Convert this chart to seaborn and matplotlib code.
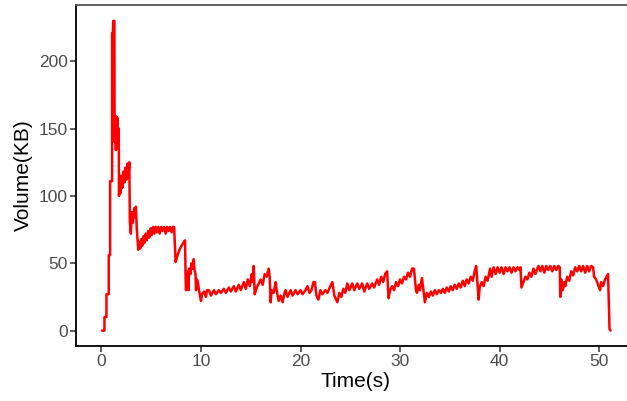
import pandas as pd
import matplotlib.pyplot as plt
import seaborn as sns

# values (seconds, KB)
time_s = [
    0.05, 0.3, 0.3, 0.5, 0.5, 0.73, 0.73, 0.87, 0.87, 1.07, 1.07, 1.15, 1.18, 1.3,
    1.32, 1.4, 1.45, 1.5, 1.55, 1.6, 1.68, 1.74, 1.76, 1.85, 1.9, 2.0, 2.1, 2.2,
    2.3, 2.4, 2.5, 2.6, 2.7, 2.8, 2.85, 2.95, 3.05, 3.15, 3.3, 3.4, 3.46, 3.55,
    3.7, 3.8, 3.9, 4.0, 4.1, 4.2, 4.3, 4.45, 4.55, 4.7, 4.8, 4.95, 5.05, 5.2,
    5.3, 5.45, 5.55, 5.7, 5.85, 6.0, 6.15, 6.3, 6.45, 6.6, 6.75, 6.9, 7.05, 7.2,
    7.3, 7.45, 7.6, 7.75, 7.9, 8.05, 8.2, 8.4, 8.45, 8.5, 8.55, 8.65, 8.75, 8.8,
    8.95, 9.05, 9.15, 9.27, 9.35, 9.45, 9.5, 9.6, 9.7, 9.8, 10.0, 10.1, 10.3, 10.5,
    10.6, 10.8, 11.0, 11.3, 11.5, 11.8, 12.0, 12.3, 12.5, 12.8, 13.0, 13.3, 13.5, 13.8,
    14.0, 14.3, 14.5, 14.7, 14.9, 15.1, 15.2, 15.3, 15.4, 15.6, 15.8, 16.0, 16.2, 16.4,
    16.6, 16.8, 16.9, 17.0, 17.1, 17.3, 17.5, 17.6, 17.8, 18.0, 18.2, 18.4, 18.5, 18.7,
    19.0, 19.2, 19.5, 19.7, 20.0, 20.2, 20.5, 20.7, 20.9, 21.1, 21.3, 21.45, 21.6, 21.8,
    22.0, 22.2, 22.5, 22.7, 23.0, 23.2, 23.4, 23.7, 23.9, 24.1, 24.3, 24.5, 24.7, 24.9,
    25.2, 25.4, 25.7, 25.9, 26.2, 26.4, 26.7, 26.9, 27.2, 27.4, 27.7, 27.9, 28.1, 28.3,
    28.5, 28.7, 28.85, 29.0, 29.2, 29.4, 29.6, 29.8, 30.0, 30.2, 30.4, 30.6, 30.8, 31.0,
    31.2, 31.4, 31.6, 31.7, 31.9, 32.0, 32.2, 32.35, 32.5, 32.7, 32.9, 33.1, 33.3, 33.5,
    33.7, 33.9, 34.1, 34.3, 34.5, 34.7, 34.9, 35.1, 35.3, 35.5, 35.7, 35.9, 36.1, 36.3,
    36.5, 36.7, 36.9, 37.1, 37.3, 37.5, 37.65, 37.9, 38.0, 38.2, 38.4, 38.6, 38.8, 39.05,
    39.2, 39.4, 39.6, 39.8, 40.0, 40.2, 40.4, 40.6, 40.8, 41.0, 41.2, 41.4, 41.6, 41.8,
    42.0, 42.1, 42.2, 42.4, 42.6, 42.8, 43.0, 43.2, 43.4, 43.6, 43.9, 44.1, 44.3, 44.5,
    44.7, 44.9, 45.1, 45.3, 45.5, 45.7, 45.9, 46.05, 46.1, 46.2, 46.35, 46.5, 46.6, 46.8,
    47.0, 47.2, 47.4, 47.6, 47.8, 48.0, 48.2, 48.4, 48.6, 48.8, 49.0, 49.2, 49.4, 49.5,
    49.7, 49.9, 50.1, 50.2, 50.4, 50.6, 50.75, 50.9, 51.05, 51.15,
]
volume_kb = [
    0, 0, 10, 10, 27, 27, 56, 56, 111, 111, 221, 221, 230, 230,
    140, 159, 134, 159, 135, 158, 140, 150, 100, 112, 102, 115, 106, 118,
    110, 121, 112, 124, 114, 125, 81, 72, 88, 80, 91, 84, 92, 75,
    60, 66, 61, 68, 63, 70, 65, 72, 67, 74, 69, 76, 71, 77,
    72, 77, 73, 77, 72, 77, 74, 77, 72, 77, 74, 77, 73, 77,
    77, 51, 55, 58, 61, 63, 65, 67, 40, 30, 44, 38, 30, 46,
    42, 50, 46, 53, 45, 42, 30, 38, 35, 30, 22, 27, 29, 25,
    30, 30, 26, 30, 27, 30, 28, 31, 28, 32, 29, 33, 29, 34,
    30, 36, 31, 38, 33, 42, 36, 48, 27, 32, 35, 38, 34, 42,
    40, 46, 40, 21, 30, 28, 36, 30, 22, 26, 21, 28, 30, 25,
    30, 26, 30, 27, 30, 27, 30, 33, 28, 30, 36, 36, 26, 23,
    30, 27, 30, 28, 33, 36, 26, 21, 28, 25, 31, 28, 35, 30,
    35, 30, 35, 31, 35, 29, 35, 31, 35, 32, 38, 34, 40, 36,
    42, 44, 24, 30, 33, 30, 36, 33, 38, 35, 40, 38, 43, 40,
    46, 46, 30, 28, 34, 30, 39, 30, 21, 28, 25, 29, 26, 30,
    27, 30, 28, 31, 28, 32, 29, 33, 30, 34, 31, 35, 32, 37,
    33, 38, 35, 40, 37, 44, 48, 23, 32, 36, 33, 40, 37, 46,
    40, 47, 42, 47, 43, 47, 42, 47, 44, 47, 43, 47, 44, 47,
    45, 47, 32, 36, 40, 38, 43, 40, 46, 42, 48, 44, 48, 43,
    48, 45, 48, 44, 48, 45, 48, 47, 25, 38, 30, 36, 33, 40,
    37, 44, 41, 47, 44, 48, 44, 48, 43, 48, 44, 48, 47, 40,
    38, 34, 30, 36, 33, 38, 40, 42, 1, 0,
]

df = pd.DataFrame({'time': time_s, 'volume': volume_kb})

sns.set_theme(style='ticks')
plt.rcParams['font.family'] = ['Liberation Sans', 'DejaVu Sans']

fig = plt.figure(figsize=(6.27, 4.01), dpi=100)
ax = fig.add_axes([0.1212, 0.137, 0.893, 0.8505])

sns.lineplot(data=df, x='time', y='volume', color='red', linewidth=1.8,
             estimator=None, sort=False, ax=ax)

ax.set_xlim(-2.56, 53.7)
ax.set_ylim(-11.5, 241.8)
ax.set_xticks([0, 10, 20, 30, 40, 50])
ax.set_yticks([0, 50, 100, 150, 200])
ax.set_xlabel('Time(s)', fontsize=15, color='black', labelpad=2)
ax.set_ylabel('Volume(KB)', fontsize=15, color='black', labelpad=4)
ax.tick_params(axis='both', labelsize=12.5, labelcolor='#4d4d4d', color='#333333',
               length=4, width=1.1, direction='out', pad=2,
               bottom=True, left=True, top=False, right=False)

for side in ['left', 'bottom']:
    ax.spines[side].set_color('black')
    ax.spines[side].set_linewidth(1.3)
ax.spines['top'].set_visible(True)
ax.spines['top'].set_color('#555555')
ax.spines['top'].set_linewidth(1.3)
ax.spines['right'].set_visible(False)

fig.savefig('out.png', dpi=100)
